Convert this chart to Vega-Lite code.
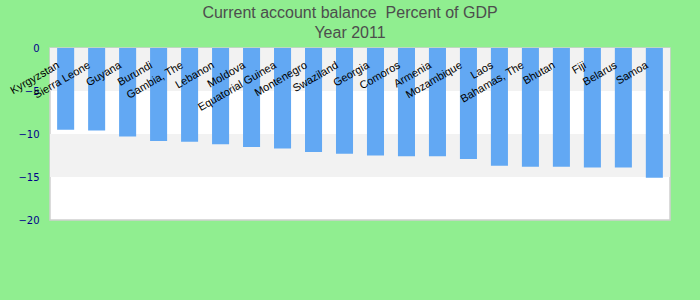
{
  "$schema": "https://vega.github.io/schema/vega-lite/v6.json",
  "width": 620,
  "height": 172,
  "autosize": {"type": "none"},
  "padding": {"left": 50, "top": 48, "right": 30, "bottom": 80},
  "background": "#90EE90",
  "title": {
    "text": ["Current account balance\u00a0 Percent of GDP", "Year 2011"],
    "font": "Liberation Sans",
    "fontSize": 16,
    "fontWeight": "normal",
    "color": "#4d4d4d",
    "anchor": "middle",
    "frame": "group",
    "dx": -10,
    "lineHeight": 20,
    "baseline": "alphabetic",
    "offset": -11
  },
  "config": {
    "view": {"fill": "white", "stroke": "#cfcfcf", "strokeWidth": 1.5}
  },
  "layer": [
    {
      "data": {"values": [{"top": 0, "bottom": -5}, {"top": -10, "bottom": -15}]},
      "mark": {"type": "rect", "color": "#f2f2f2"},
      "encoding": {
        "y": {"field": "top", "type": "quantitative", "scale": {"domain": [-20, 0], "nice": false}},
        "y2": {"field": "bottom"}
      }
    },
    {
      "data": {
        "values": [
          {"country": "Kyrgyzstan", "value": -9.5},
          {"country": "Sierra Leone", "value": -9.6},
          {"country": "Guyana", "value": -10.3},
          {"country": "Burundi", "value": -10.8},
          {"country": "Gambia, The", "value": -10.9},
          {"country": "Lebanon", "value": -11.2},
          {"country": "Moldova", "value": -11.5},
          {"country": "Equatorial Guinea", "value": -11.7},
          {"country": "Montenegro", "value": -12.1},
          {"country": "Swaziland", "value": -12.3},
          {"country": "Georgia", "value": -12.5},
          {"country": "Comoros", "value": -12.6},
          {"country": "Armenia", "value": -12.6},
          {"country": "Mozambique", "value": -12.9},
          {"country": "Laos", "value": -13.7},
          {"country": "Bahamas, The", "value": -13.8},
          {"country": "Bhutan", "value": -13.8},
          {"country": "Fiji", "value": -13.9},
          {"country": "Belarus", "value": -13.9},
          {"country": "Samoa", "value": -15.1}
        ]
      },
      "mark": {"type": "bar", "color": "#62A8F3"},
      "encoding": {
        "x": {
          "field": "country",
          "type": "nominal",
          "sort": null,
          "scale": {"paddingInner": 0.45, "paddingOuter": 0.23},
          "axis": {
            "orient": "top",
            "title": null,
            "ticks": false,
            "domain": false,
            "zindex": 1,
            "labelAngle": -30,
            "labelAlign": "right",
            "labelBaseline": "top",
            "labelPadding": -11,
            "labelOffset": -10,
            "labelFont": "Liberation Sans",
            "labelFontSize": 11,
            "labelColor": "black",
            "labelOverlap": false,
            "labelLimit": 0
          }
        },
        "y": {
          "field": "value",
          "type": "quantitative",
          "scale": {"domain": [-20, 0], "nice": false},
          "axis": {
            "title": null,
            "values": [0, -5, -10, -15, -20],
            "ticks": false,
            "domain": false,
            "grid": false,
            "labelFont": "DejaVu Sans",
            "labelFontSize": 10,
            "labelColor": "#00008B",
            "labelPadding": 11
          }
        }
      }
    }
  ]
}
